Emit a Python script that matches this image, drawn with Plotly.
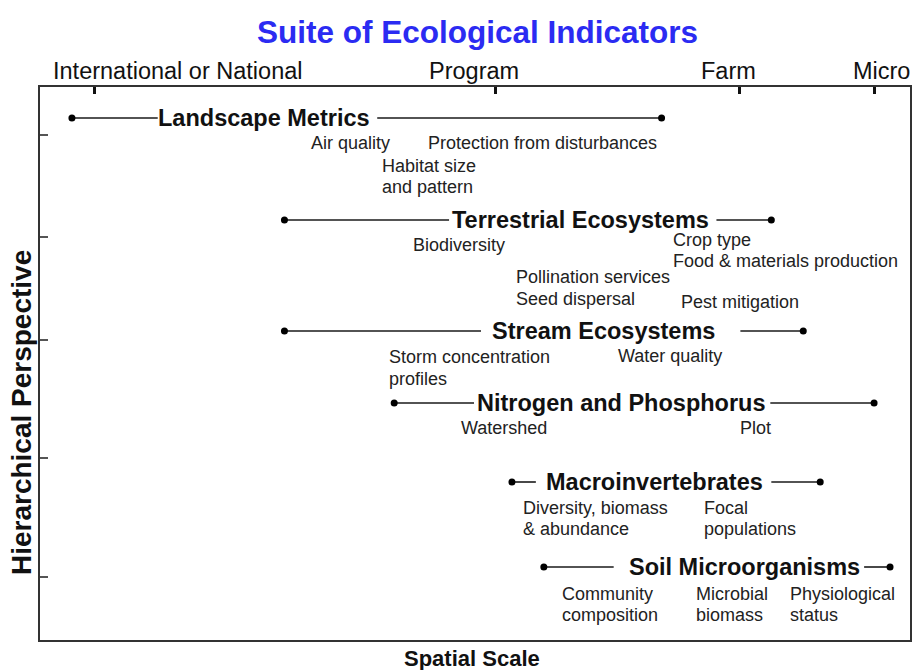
import plotly.graph_objects as go

# ---- data ----
groups = ["Landscape Metrics", "Terrestrial Ecosystems", "Stream Ecosystems",
          "Nitrogen and Phosphorus", "Macroinvertebrates", "Soil Microorganisms"]
group_level = [118, 220, 331, 403, 482, 567]      # hierarchical position
scale_start = [72, 285, 285, 395, 513, 545]       # spatial extent (left end)
scale_end = [663, 773, 805, 876, 822, 892]        # spatial extent (right end)
gap_left = [158, 450, 482, 475, 537, 615]         # where line stops before label
gap_right = [378, 718, 742, 772, 773, 866]        # where line resumes after label
label_center = [265, 582, 605, 623, 656, 746]

sub_text = ["Air quality", "Protection from disturbances", "Habitat size", "and pattern",
            "Biodiversity", "Crop type", "Food & materials production",
            "Pollination services", "Seed dispersal", "Pest mitigation",
            "Storm concentration", "profiles", "Water quality",
            "Watershed", "Plot",
            "Diversity, biomass", "& abundance", "Focal", "populations",
            "Community", "composition", "Microbial", "biomass", "Physiological", "status"]
sub_x = [311, 428, 382, 382,
         413, 673, 673,
         516, 516, 681,
         389, 389, 618,
         461, 741,
         523, 523, 705, 705,
         562, 562, 697, 697, 791, 791]
sub_y = [143, 143, 166, 187,
         245, 240, 261,
         277, 299, 302,
         357, 379, 356,
         428, 428,
         508, 529, 508, 529,
         594, 615, 594, 615, 594, 615]

scale_ticks = [95, 497, 741, 876]
scale_names = ["International or National", "Program", "Farm", "Micro"]
scale_name_x = [178, 475, 730, 883]
level_ticks = [135, 237, 340, 458, 577]

X0, X1, Y0, Y1 = 40, 912, 87, 640
FONT = "Liberation Sans, Arial, sans-serif"
LINE = "#1a1a1a"

fig = go.Figure()
for i, g in enumerate(groups):
    y = group_level[i]
    fig.add_trace(go.Scatter(
        x=[scale_start[i], gap_left[i], None, gap_right[i], scale_end[i]],
        y=[y, y, None, y, y], mode="lines",
        line=dict(color=LINE, width=1.6), hoverinfo="skip", showlegend=False))
    fig.add_trace(go.Scatter(
        x=[scale_start[i], scale_end[i]], y=[y, y], mode="markers",
        marker=dict(color="black", size=7), hoverinfo="skip", showlegend=False))

ann = []
for i, g in enumerate(groups):
    ann.append(dict(x=label_center[i], y=group_level[i], xref="x", yref="y", text="<b>%s</b>" % g,
                    showarrow=False, xanchor="center", yanchor="middle", borderpad=0,
                    font=dict(family=FONT, size=23.5, color="#111")))
for t, x, y in zip(sub_text, sub_x, sub_y):
    ann.append(dict(x=x, y=y, xref="x", yref="y", text=t, showarrow=False,
                    xanchor="left", yanchor="middle", borderpad=0,
                    font=dict(family=FONT, size=18, color="#222")))

def px(xp):
    return (xp - X0) / (X1 - X0)

def py(yp):
    return (Y1 - yp) / (Y1 - Y0)

for name, x in zip(scale_names, scale_name_x):
    ann.append(dict(x=px(x), y=py(71), xref="paper", yref="paper", text=name, showarrow=False,
                    xanchor="center", yanchor="middle", font=dict(family=FONT, size=23.5, color="#111")))
ann.append(dict(x=px(479), y=py(32), xref="paper", yref="paper",
                text="<b>Suite of Ecological Indicators</b>", showarrow=False,
                xanchor="center", yanchor="middle", font=dict(family=FONT, size=31.5, color="#2b2bf2")))
ann.append(dict(x=px(473), y=py(658), xref="paper", yref="paper",
                text="<b>Spatial Scale</b>", showarrow=False,
                xanchor="center", yanchor="middle", font=dict(family=FONT, size=22, color="#111")))
ann.append(dict(x=px(22), y=py(413), xref="paper", yref="paper", textangle=-90,
                text="<b>Hierarchical Perspective</b>", showarrow=False,
                xanchor="center", yanchor="middle", font=dict(family=FONT, size=28, color="#111")))

fig.update_layout(
    width=914, height=670,
    margin=dict(l=X0, r=914 - X1, t=Y0, b=670 - Y1),
    paper_bgcolor="white", plot_bgcolor="white",
    annotations=ann,
    xaxis=dict(range=[X0, X1], side="top", showgrid=False, zeroline=False,
               tickvals=scale_ticks, ticks="inside", ticklen=7, tickwidth=2.5, tickcolor="#111",
               showticklabels=False, showline=True, mirror=True, linecolor="#333", linewidth=2),
    yaxis=dict(range=[Y1, Y0], showgrid=False, zeroline=False,
               tickvals=level_ticks, ticks="inside", ticklen=8, tickwidth=1.5, tickcolor="#555",
               showticklabels=False, showline=True, mirror=True, linecolor="#333", linewidth=2),
)

fig.write_html("out.html", config={"displayModeBar": False},
               post_script="document.body.style.margin='0';document.body.style.overflow='hidden';")
